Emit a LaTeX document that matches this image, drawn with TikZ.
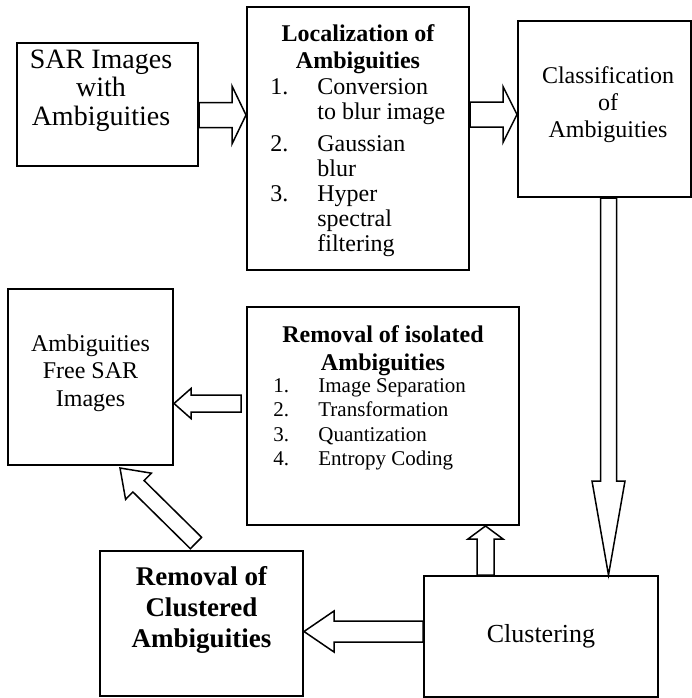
\documentclass[tikz,border=0pt]{standalone}
\usepackage{fontspec}
\setmainfont{Liberation Serif}
\usetikzlibrary{calc}
% block arrow: #1 tail, #2 tip, #3 shaft half width, #4 head half width, #5 head length
\newcommand{\blockarrow}[5]{%
  \coordinate (hb) at ($(#2)!#5!(#1)$);
  \draw[blk] ($(#1)!#3!90:(#2)$) -- ($(hb)!#3!90:(#2)$) -- ($(hb)!#4!90:(#2)$) -- (#2)
    -- ($(hb)!#4!-90:(#2)$) -- ($(hb)!#3!-90:(#2)$) -- ($(#1)!#3!-90:(#2)$) -- cycle;}
\newcommand{\txtlines}[3]{{\fontsize{#1}{#2}\selectfont\begin{tabular}[t]{@{}c@{}}#3\end{tabular}}}
\newcommand{\txtlist}[4]{{\fontsize{#1}{#2}\selectfont\begin{tabular}[t]{@{}p{#3}@{}l@{}}#4\end{tabular}}}
\begin{document}
\begin{tikzpicture}[x=0.5pt,y=-0.5pt,
  box/.style={draw, line width=1pt, inner sep=0pt},
  blk/.style={draw, fill=white, line width=0.75pt, line join=miter},
  txt/.style={inner sep=0pt, anchor=base},
  lst/.style={inner sep=0pt, anchor=base west}]
\useasboundingbox (0,0) rectangle (692,698);
% boxes
\node[box, minimum width=90.5pt, minimum height=61.5pt] (sar) at (107.5,104.5) {};
\node[box, minimum width=111pt, minimum height=131.5pt] (loc) at (358,138.5) {};
\node[box, minimum width=86.5pt, minimum height=88pt] (cls) at (604.5,109) {};
\node[box, minimum width=82.5pt, minimum height=88pt] (free) at (90.5,377) {};
\node[box, minimum width=136pt, minimum height=109pt] (iso) at (383,416) {};
\node[box, minimum width=101.5pt, minimum height=72.5pt] (clu) at (201.5,623.5) {};
\node[box, minimum width=117pt, minimum height=60.5pt] (clg) at (541,636.5) {};
% texts
\node[txt] (tsar) at (101,68) {\txtlines{14}{14.25}{SAR Images\\with\\Ambiguities}};
\node[txt] (tloch) at (358,41) {\txtlines{12}{13.5}{\bfseries Localization of\\\bfseries Ambiguities}};
\begin{scope}
\clip (loc.north west) rectangle ($(loc.south east)+(0,-15)$);
\node[lst] (tlocl) at (270,94) {\txtlist{12}{12.5}{23.5pt}{1.&Conversion\\ &to blur image\\[3.5pt] 2.&Gaussian\\ &blur\\ 3.&Hyper\\ &spectral\\ &filtering}};
\end{scope}
\node[txt] (tcls) at (608,83) {\txtlines{12}{13.5}{Classification\\of\\Ambiguities}};
\node[txt] (tfree) at (90.5,351) {\txtlines{12}{13.75}{Ambiguities\\Free SAR\\Images}};
\node[txt] (tisoh) at (383,342) {\txtlines{12}{14}{\bfseries Removal of isolated\\\bfseries Ambiguities}};
\node[lst] (tisol) at (273,392) {\txtlist{10.5}{12.25}{22.5pt}{1.&Image Separation\\2.&Transformation\\3.&Quantization\\4.&Entropy Coding}};
\node[txt] (tclu) at (201.5,585) {\txtlines{13.5}{15.5}{\bfseries Removal of\\\bfseries Clustered\\\bfseries Ambiguities}};
\node[txt] (tclg) at (541,642) {\txtlines{13}{15}{Clustering}};
% arrow end points
\coordinate (a1s) at (sar.east |- 0,115);
\coordinate (a1e) at (loc.west |- 0,115);
\coordinate (a2s) at (loc.east |- 0,114.5);
\coordinate (a2e) at (cls.west |- 0,114.5);
\coordinate (a3s) at (cls.south -| 608.5,0);
\coordinate (a3e) at (clg.north -| 608.5,0);
\coordinate (a4s) at (clg.north -| 485.5,0);
\coordinate (a4e) at (iso.south -| 485.5,0);
\coordinate (a5s) at ($(iso.west |- 0,403.5)+(-5,0)$);
\coordinate (a5e) at (free.east |- 0,403.5);
\coordinate (a6s) at (clg.west |- 0,631.5);
\coordinate (a6e) at (clu.east |- 0,631.5);
\coordinate (a7s) at ($(clu.north)+(-5.5,-7)$);
\coordinate (a7e) at ($(free.south)+(29.5,2)$);
% arrows
\blockarrow{a1s}{a1e}{6.25pt}{14.5pt}{7pt}
\blockarrow{a2s}{a2e}{6.25pt}{14pt}{7pt}
\blockarrow{a3s}{a3e}{4pt}{8.25pt}{47pt}
\blockarrow{a4s}{a4e}{4.25pt}{8.75pt}{6.5pt}
\blockarrow{a5s}{a5e}{4.25pt}{7.5pt}{8.5pt}
\blockarrow{a6s}{a6e}{5.25pt}{10.25pt}{15pt}
\blockarrow{a7s}{a7e}{4pt}{9.2pt}{13pt}
\end{tikzpicture}
\end{document}
